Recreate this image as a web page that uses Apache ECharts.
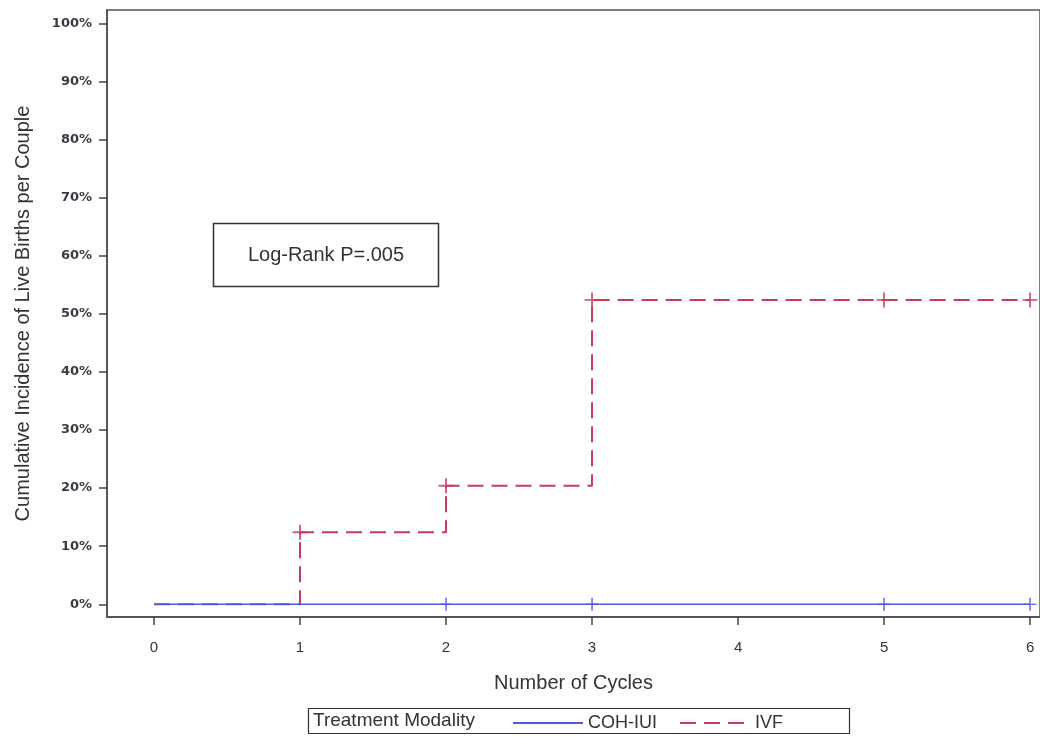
<!DOCTYPE html>
<html>
<head>
    <meta charset="UTF-8">
    <title>Cumulative Incidence of Live Births</title>
</head>
<body style="margin:0;background:#fff;">
<div id="main" style="width: 1040px;height:737px;"></div>
<script src="https://cdn.jsdelivr.net/npm/echarts@6/dist/echarts.min.js"></script>

<script>
    // tick labels
    var cycleTicks = [0, 1, 2, 3, 4, 5, 6];
    var pctTicks = [0, 10, 20, 30, 40, 50, 60, 70, 80, 90, 100];

    // step curves (cycle, cumulative %)
    var ivfTimes = [0, 1, 2, 3, 6];
    var ivfValues = [0, 12.4, 20.4, 52.4, 52.4];
    var cohTimes = [0, 6];
    var cohValues = [0, 0];

    // censored marks
    var ivfCensor = [1, 2, 3, 5, 6];
    var cohCensor = [2, 3, 5, 6];

    var RED = '#c83a5a';
    var BLUE = '#5555dd';
    var plusPath = 'path://M-0.13,-1H0.13V-0.13H1V0.13H0.13V1H-0.13V0.13H-1V-0.13H-0.13Z';

    function pairs(xs, ys) {
        var out = [];
        for (var i = 0; i < xs.length; i++) out.push([xs[i], ys[i]]);
        return out;
    }
    // value of a step curve at time t
    function stepAt(xs, ys, t) {
        var v = ys[0];
        for (var i = 0; i < xs.length; i++) if (xs[i] <= t) v = ys[i];
        return v;
    }
    function censorPts(times, xs, ys) {
        return times.map(function (t) { return [t, stepAt(xs, ys, t)]; });
    }

    var myChart = echarts.init(document.getElementById('main'));
    var option = {
        animation: false,
        grid: {
            left: 107, right: -1, top: 10, bottom: 120,
            show: true, borderColor: '#555', borderWidth: 1.5
        },
        xAxis: {
            type: 'value',
            min: -0.322, max: 6.068,
            name: 'Number of Cycles',
            nameLocation: 'middle',
            nameGap: 56,
            nameTextStyle: {fontFamily: 'Liberation Sans', fontSize: 20, color: '#333'},
            axisLine: {onZero: false, lineStyle: {color: '#555', width: 2}},
            axisTick: {show: true, length: 8, customValues: cycleTicks, lineStyle: {color: '#444', width: 1.5}},
            axisLabel: {customValues: cycleTicks, margin: 23, fontFamily: 'Liberation Sans', fontSize: 15, color: '#333'},
            splitLine: {show: false}
        },
        yAxis: {
            type: 'value',
            min: -2.19, max: 102.3,
            name: 'Cumulative Incidence of Live Births per Couple',
            nameLocation: 'middle',
            nameGap: 74,
            nameTextStyle: {fontFamily: 'Liberation Sans', fontSize: 20, color: '#333'},
            axisLine: {show: true, onZero: false, lineStyle: {color: '#555', width: 2}},
            axisTick: {show: true, length: 8, customValues: pctTicks, lineStyle: {color: '#444', width: 1.5}},
            axisLabel: {
                customValues: pctTicks, margin: 15, formatter: '{value}%',
                fontFamily: 'DejaVu Sans', fontWeight: 'bold', fontSize: 13, color: '#3a3a44'
            },
            splitLine: {show: false}
        },
        legend: {
            data: ['COH-IUI', 'IVF'],
            left: 507, top: 709,
            itemWidth: 70, itemHeight: 14, itemGap: 22,
            itemStyle: {opacity: 0},
            textStyle: {fontFamily: 'Liberation Sans', fontSize: 18, color: '#333'}
        },
        graphic: [
            {type: 'rect', shape: {x: 308.5, y: 708.5, width: 541, height: 25},
                style: {fill: 'none', stroke: '#333', lineWidth: 1.2}},
            {type: 'text', left: 313, top: 711,
                style: {text: 'Treatment Modality', font: '19px Liberation Sans', fill: '#333'}},
            {type: 'rect', shape: {x: 213.5, y: 223.5, width: 225, height: 63},
                style: {fill: '#fff', stroke: '#333', lineWidth: 1.5}},
            {type: 'text', x: 326, y: 255,
                style: {text: 'Log-Rank P=.005', font: '20px Liberation Sans', fill: '#333',
                    align: 'center', verticalAlign: 'middle'}}
        ],
        series: [
            {
                name: 'IVF', type: 'line', step: 'end',
                data: pairs(ivfTimes, ivfValues),
                symbol: 'none', color: RED,
                lineStyle: {color: RED, width: 2, type: [16, 8]}
            },
            {
                name: 'COH-IUI', type: 'line', step: 'end',
                data: pairs(cohTimes, cohValues),
                symbol: 'none', color: BLUE,
                lineStyle: {color: BLUE, width: 1.5}
            },
            {
                name: 'IVF censored', type: 'scatter',
                data: censorPts(ivfCensor, ivfTimes, ivfValues),
                symbol: plusPath, symbolSize: 15,
                itemStyle: {color: RED}
            },
            {
                name: 'COH-IUI censored', type: 'scatter',
                data: censorPts(cohCensor, cohTimes, cohValues),
                symbol: plusPath, symbolSize: 13,
                itemStyle: {color: BLUE}
            }
        ]
    };
    myChart.setOption(option);
</script>

</body>
</html>
